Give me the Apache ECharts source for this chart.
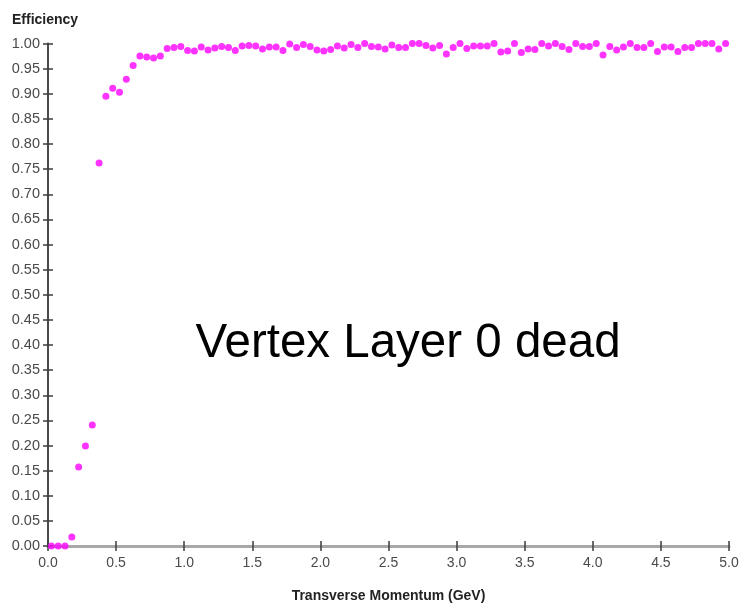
<!DOCTYPE html>
<html>
<head>
<meta charset="utf-8">
<script src="https://cdn.jsdelivr.net/npm/echarts@6/dist/echarts.min.js"></script>
<style>
  html, body { margin: 0; padding: 0; background: #ffffff; }
  #chart { width: 744px; height: 608px; }
</style>
</head>
<body>
<div id="chart"></div>
<script>
// Transverse momentum bin centres (GeV)
const momentum = [
  0.025, 0.075, 0.125, 0.175, 0.225, 0.275, 0.325, 0.375, 0.425, 0.475,
  0.525, 0.575, 0.625, 0.675, 0.725, 0.775, 0.825, 0.875, 0.925, 0.975,
  1.025, 1.075, 1.125, 1.175, 1.225, 1.275, 1.325, 1.375, 1.425, 1.475,
  1.525, 1.575, 1.625, 1.675, 1.725, 1.775, 1.825, 1.875, 1.925, 1.975,
  2.025, 2.075, 2.125, 2.175, 2.225, 2.275, 2.325, 2.375, 2.425, 2.475,
  2.525, 2.575, 2.625, 2.675, 2.725, 2.775, 2.825, 2.875, 2.925, 2.975,
  3.025, 3.075, 3.125, 3.175, 3.225, 3.275, 3.325, 3.375, 3.425, 3.475,
  3.525, 3.575, 3.625, 3.675, 3.725, 3.775, 3.825, 3.875, 3.925, 3.975,
  4.025, 4.075, 4.125, 4.175, 4.225, 4.275, 4.325, 4.375, 4.425, 4.475,
  4.525, 4.575, 4.625, 4.675, 4.725, 4.775, 4.825, 4.875, 4.925, 4.975
];

// Tracking efficiency per bin
const efficiency = [
  0.000, 0.000, 0.000, 0.018, 0.157, 0.199, 0.241, 0.762, 0.895, 0.911,
  0.903, 0.929, 0.956, 0.975, 0.973, 0.971, 0.975, 0.990, 0.992, 0.994,
  0.986, 0.985, 0.993, 0.987, 0.991, 0.994, 0.992, 0.986, 0.995, 0.996,
  0.995, 0.989, 0.993, 0.993, 0.986, 0.999, 0.992, 0.998, 0.994, 0.987,
  0.985, 0.988, 0.995, 0.991, 0.998, 0.992, 1.000, 0.994, 0.993, 0.989,
  0.997, 0.992, 0.992, 1.000, 1.000, 0.996, 0.991, 0.996, 0.979, 0.992,
  1.000, 0.990, 0.995, 0.995, 0.995, 1.000, 0.983, 0.985, 1.000, 0.982,
  0.989, 0.988, 1.000, 0.995, 1.000, 0.994, 0.988, 1.000, 0.994, 0.994,
  1.000, 0.977, 0.994, 0.987, 0.993, 1.000, 0.992, 0.992, 1.000, 0.984,
  0.993, 0.993, 0.984, 0.992, 0.992, 1.000, 1.000, 1.000, 0.989, 1.000
];

const xTitle = 'Transverse Momentum (GeV)';
const yTitle = 'Efficiency';
const note = 'Vertex Layer 0 dead';

const FONT = '"Liberation Sans", Arial, sans-serif';
const points = momentum.map((m, i) => [m, efficiency[i]]);

const tickStyle = { color: '#3c3c3c', width: 1.5 };

// Two copies of each axis on the same side: one with outward ticks, one with
// inward ticks, so every tick mark crosses the axis line.
function makeX(inside, show) {
  return {
    type: 'value', position: 'bottom', offset: 0,
    min: 0, max: 5, interval: 0.5,
    name: show ? xTitle : '',
    nameLocation: 'middle', nameGap: 43,
    nameTextStyle: { fontFamily: FONT, fontSize: 14, fontWeight: 'bold', color: '#222' },
    axisLine: { show: show, onZero: false, lineStyle: { color: '#a8a8a8', width: 3 } },
    axisTick: { show: true, inside: inside, length: 5, lineStyle: tickStyle },
    axisLabel: {
      show: show, margin: 10, fontFamily: FONT, fontSize: 14, color: '#4a4a4a',
      formatter: v => v.toFixed(1)
    },
    splitLine: { show: false }
  };
}

function makeY(inside, show) {
  return {
    type: 'value', position: 'left', offset: 0,
    min: 0, max: 1, interval: 0.05,
    axisLine: { show: show, onZero: false, lineStyle: { color: '#4a4a4a', width: 2 } },
    axisTick: { show: true, inside: inside, length: 5, lineStyle: tickStyle },
    axisLabel: {
      show: show, margin: 8, fontFamily: FONT, fontSize: 14.5, color: '#4a4a4a',
      formatter: v => v.toFixed(2)
    },
    splitLine: { show: false }
  };
}

const chart = echarts.init(document.getElementById('chart'), null, { renderer: 'canvas' });
chart.setOption({
  backgroundColor: '#ffffff',
  animation: false,
  grid: { left: 48, right: 15, top: 43.5, bottom: 54.7, containLabel: false },
  xAxis: [makeX(false, true), makeX(true, false)],
  yAxis: [makeY(false, true), makeY(true, false)],
  graphic: [
    {
      type: 'text', x: 12, y: 20,
      style: {
        text: yTitle, fontFamily: FONT, fontSize: 14, fontWeight: 'bold', fill: '#222',
        textAlign: 'left', textVerticalAlign: 'middle'
      }
    },
    {
      type: 'text', x: 408, y: 344,
      style: {
        text: note, fontFamily: FONT, fontSize: 47.5, fill: '#000',
        textAlign: 'center', textVerticalAlign: 'middle'
      }
    }
  ],
  series: [{
    type: 'scatter',
    xAxisIndex: 0, yAxisIndex: 0,
    symbol: 'circle', symbolSize: 7,
    itemStyle: { color: '#ff00ff' },
    data: points,
    z: 5
  }]
});
</script>
</body>
</html>
